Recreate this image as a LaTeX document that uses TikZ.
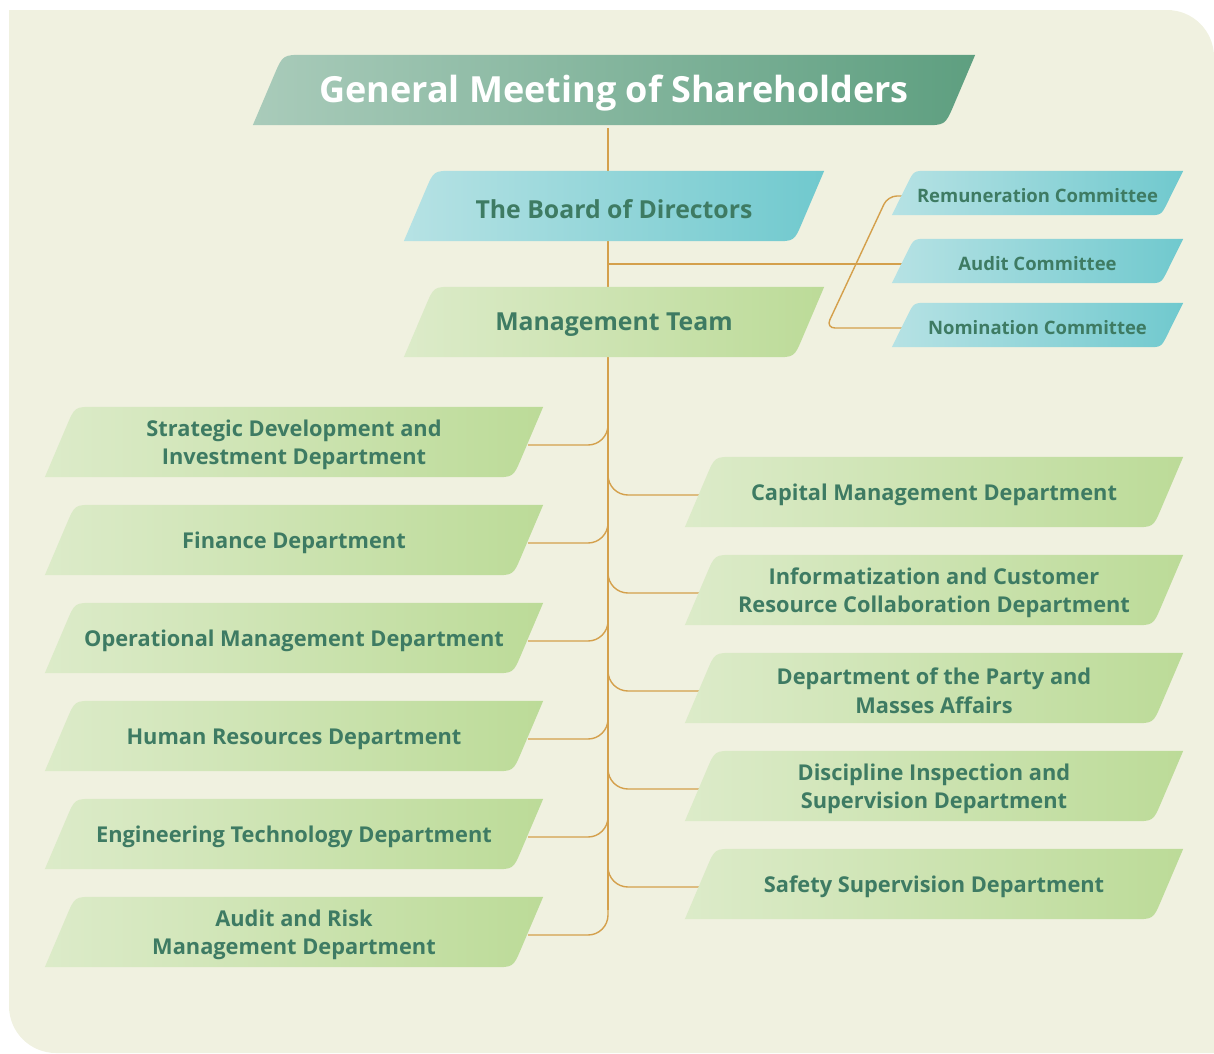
\documentclass[tikz,border=0pt]{standalone}
\usepackage{fontspec}
\setmainfont{Open Sans}
\usetikzlibrary{calc}
\definecolor{pagebg}{HTML}{F0F1E0}
\definecolor{txtgreen}{HTML}{3E7B63}
\definecolor{connc}{HTML}{D4A04C}
\definecolor{topL}{HTML}{A9CBBA}
\definecolor{topR}{HTML}{5E9F80}
\definecolor{cyanL}{HTML}{B6E2E4}
\definecolor{cyanR}{HTML}{70C9CE}
\definecolor{grnL}{HTML}{DCEBC9}
\definecolor{grnR}{HTML}{BCDB98}
\pgfdeclarelayer{page}\pgfdeclarelayer{lines}\pgfdeclarelayer{fills}
\pgfsetlayers{page,lines,fills,main}
% #1 node, #2 half slant, #3 corner radius, #4 left colour, #5 right colour
% (nodes are shifted 3pt down for text placement; the fill compensates)
\newcommand\slfill[5]{%
\begin{pgfonlayer}{fills}
\coordinate (#1-bl) at ($(#1.south west)+(-#2,-3)$);
\coordinate (#1-tl) at ($(#1.north west)+(#2,-3)$);
\coordinate (#1-tr) at ($(#1.north east)+(#2,-3)$);
\coordinate (#1-br) at ($(#1.south east)+(-#2,-3)$);
\shade[left color=#4,right color=#5] (#1-bl) -- ($(#1-tl)!#3!(#1-bl)$) .. controls (#1-tl) .. ($(#1-tl)!#3!(#1-tr)$) -- (#1-tr) -- ($(#1-br)!#3!(#1-tr)$) .. controls (#1-br) .. ($(#1-br)!#3!(#1-bl)$) -- cycle;
\end{pgfonlayer}}
\tikzset{
 box/.style={inner sep=0pt, align=center, text=txtgreen, yshift=-3pt},
 titlebox/.style={box, minimum width=692pt, minimum height=70pt, text=white, font=\bfseries\fontsize{36}{40}\selectfont},
 midbox/.style={box, minimum width=390pt, minimum height=70pt, font=\bfseries\fontsize{24.8}{28}\selectfont},
 dept/.style={box, minimum width=468pt, minimum height=70pt, font=\bfseries\fontsize{21.8}{28.5}\selectfont},
 comm/.style={box, minimum width=269pt, minimum height=44pt, font=\bfseries\fontsize{18.5}{22}\selectfont},
 conn/.style={draw=connc, line width=1.4pt},
}
\begin{document}
\begin{tikzpicture}[x=1pt,y=-1pt]
\useasboundingbox (0,0) rectangle (1214,1053);
\begin{pgfonlayer}{page}
\fill[pagebg] (9,10) -- (1167,10) .. controls (1193,10) and (1214,31) .. (1214,57) -- (1214,1053) -- (56,1053) .. controls (30,1053) and (9,1032) .. (9,1006) -- cycle;
\end{pgfonlayer}
\coordinate (tx) at (608,0);
% top levels
\node[titlebox] (gm) at (614,90) {General Meeting of Shareholders};
\slfill{gm}{15}{22pt}{topL}{topR}
\node[midbox] (bd) at (614,206) {The Board of Directors};
\slfill{bd}{15}{20pt}{cyanL}{cyanR}
\node[midbox] (mt) at (614,322) {Management Team};
\slfill{mt}{15}{20pt}{grnL}{grnR}
% committees
\node[comm] (rc) at (1037.5,193) {Remuneration Committee};
\slfill{rc}{11}{14pt}{cyanL}{cyanR}
\node[comm] (ac) at (1037.5,261) {Audit Committee};
\slfill{ac}{11}{14pt}{cyanL}{cyanR}
\node[comm] (nc) at (1037.5,325) {Nomination Committee};
\slfill{nc}{11}{14pt}{cyanL}{cyanR}
% left departments
\node[dept] (L1) at (294,442) {Strategic Development and\\Investment Department};
\node[dept] (L2) at (294,540) {Finance Department};
\node[dept] (L3) at (294,638) {Operational Management Department};
\node[dept] (L4) at (294,736) {Human Resources Department};
\node[dept] (L5) at (294,834) {Engineering Technology Department};
\node[dept] (L6) at (294,932) {Audit and Risk\\Management Department};
% right departments
\node[dept] (R1) at (934,492) {Capital Management Department};
\node[dept] (R2) at (934,590) {Informatization and Customer\\Resource Collaboration Department};
\node[dept] (R3) at (934,688) {Department of the Party and\\Masses Affairs};
\node[dept] (R4) at (934,786) {Discipline Inspection and\\Supervision Department};
\node[dept] (R5) at (934,884) {Safety Supervision Department};
\foreach \n in {L1,L2,L3,L4,L5,L6,R1,R2,R3,R4,R5}{\slfill{\n}{15}{20pt}{grnL}{grnR}}
% connectors
\begin{pgfonlayer}{lines}
\draw[conn] (gm.south -| tx) -- ($(L6.east -| tx)+(0,-25)$);
\foreach \n in {L1,L2,L3,L4,L5,L6}{\draw[conn,rounded corners=20pt] ($(\n.east -| tx)+(0,-25)$) |- (\n.east);}
\foreach \n in {R1,R2,R3,R4,R5}{\draw[conn,rounded corners=20pt] ($(\n.west -| tx)+(0,-25)$) |- (\n.west);}
\draw[conn] (ac.west -| tx) -- (ac.west);
\draw[conn,rounded corners=9pt] (rc.west) -- ($(rc.west)+(-15,0)$) -- (nc.west -| 826,0) -- (nc.west);
\end{pgfonlayer}
\end{tikzpicture}
\end{document}
